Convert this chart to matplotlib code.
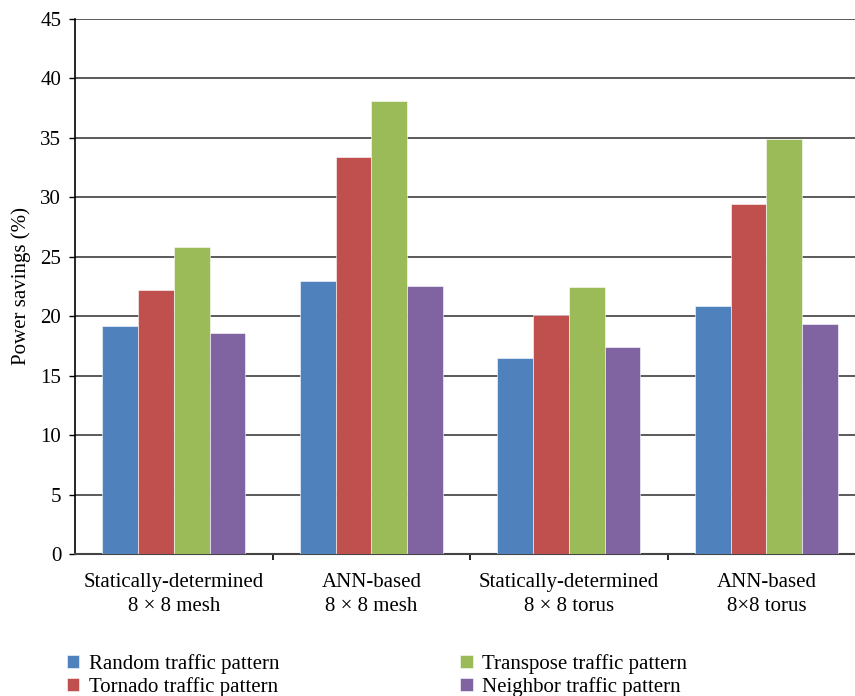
import matplotlib.pyplot as plt
import numpy as np

plt.rcParams['font.family'] = ['Liberation Serif', 'DejaVu Serif']

groups = ['Statically-determined\n8 \u00d7 8 mesh', 'ANN-based\n8 \u00d7 8 mesh',
          'Statically-determined\n8 \u00d7 8 torus', 'ANN-based\n8\u00d78 torus']
series = ['Random traffic pattern', 'Tornado traffic pattern',
          'Transpose traffic pattern', 'Neighbor traffic pattern']
random_vals = [19.2, 22.9, 16.5, 20.8]
tornado_vals = [22.2, 33.4, 20.1, 29.4]
transpose_vals = [25.8, 38.1, 22.4, 34.9]
neighbor_vals = [18.6, 22.5, 17.4, 19.3]
colors = ['#4F81BD', '#C0504D', '#9BBB59', '#8064A2']

fig = plt.figure(figsize=(8.55, 6.96), dpi=100)
ax = fig.add_axes([75.2 / 855, 1 - 554 / 696, 790 / 855, (554 - 18.5) / 696])

x = np.arange(len(groups))
w = 0.181
data = [random_vals, tornado_vals, transpose_vals, neighbor_vals]
for i, (vals, c, name) in enumerate(zip(data, colors, series)):
    ax.bar(x + (i - 1.5) * w, vals, w, color=c, edgecolor='white', linewidth=0.4,
           label=name, zorder=3)

ax.set_xlim(-0.5, 3.5)
ax.set_ylim(0, 45)
ax.set_yticks(np.arange(0, 46, 5))
ax.yaxis.grid(True, color='#2e2e2e', linewidth=1.1, zorder=0)
ax.set_axisbelow(True)
ax.set_xticks(x)
ax.set_xticklabels(groups, fontsize=15, linespacing=1.3)
ax.set_xticks([0.5, 1.5, 2.5], minor=True)
ax.tick_params(axis='x', which='major', length=0, pad=14)
ax.tick_params(axis='x', which='minor', length=4, width=1.2, color='black')
ax.tick_params(axis='y', labelsize=15, length=4, width=1, pad=6)
ax.set_ylabel('Power savings (%)', fontsize=15, labelpad=7)

for s in ['top', 'right']:
    ax.spines[s].set_visible(False)
ax.spines['left'].set_linewidth(1.2)
ax.spines['bottom'].set_color('#444444')
ax.spines['bottom'].set_linewidth(1.5)

fig.legend(loc='lower left', bbox_to_anchor=(0.056, -0.028), ncol=2, frameon=False,
           fontsize=15, handlelength=0.6, handleheight=0.6, handletextpad=0.45,
           columnspacing=8.7, labelspacing=0.15)

fig.savefig('out.png', dpi=100)
